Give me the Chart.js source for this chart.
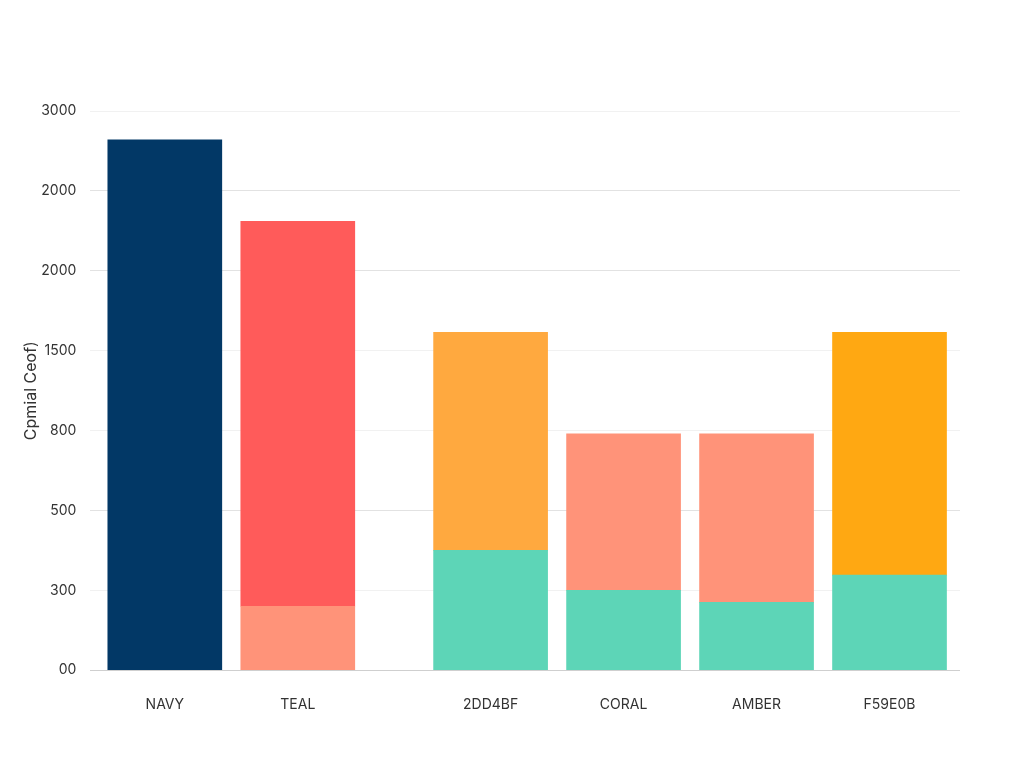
<!DOCTYPE html>
<html>
<head>
<meta charset="utf-8">
<script src="https://cdn.jsdelivr.net/npm/chart.js@4/dist/chart.umd.min.js"></script>
<style>
html,body{margin:0;padding:0;background:#fff;}
#wrap{width:1024px;height:768px;position:relative;}
</style>
</head>
<body>
<div id="wrap"><canvas id="c" width="1024" height="768"></canvas></div>
<script>
// Categories and their positions along the x axis (in category units)
const categories = ["NAVY", "TEAL", "2DD4BF", "CORAL", "AMBER", "F59E0B"];
const categoryPos = [0, 1, 2.45, 3.45, 4.45, 5.45];

// Y tick labels (evenly spaced gridlines, bottom to top)
const yTickLabels = ["00", "300", "500", "800", "1500", "2000", "2000", "3000"];
const yTitle = "Cpmial Ceof)";

// Series values in gridline units (0..7)
const navyVals   = [6.64, null, null, null, null, null];
const tealVals   = [null, null, 1.50, 1.00, 0.85, 1.19];
const salmonVals = [null, 0.80, null, 1.96, 2.11, null];
const redVals    = [null, 4.82, null, null, null, null];
const orangeVals = [null, null, 2.73, null, null, null];
const amberVals  = [null, null, null, null, null, 3.04];

function pts(vals){ return vals.map((v,i)=>({x:categoryPos[i], y:v})); }

const gridFaint = [false, true, false, true, true, false, false, true];

new Chart(document.getElementById('c'), {
  type: 'bar',
  data: {
    datasets: [
      {label:'navy',   data: pts(navyVals),   backgroundColor:'#023866'},
      {label:'teal',   data: pts(tealVals),   backgroundColor:'#5DD5B7'},
      {label:'salmon', data: pts(salmonVals), backgroundColor:'#FF9379'},
      {label:'red',    data: pts(redVals),    backgroundColor:'#FF5B5A'},
      {label:'orange', data: pts(orangeVals), backgroundColor:'#FFA93F'},
      {label:'amber',  data: pts(amberVals),  backgroundColor:'#FFA812'}
    ]
  },
  options: {
    responsive: false,
    animation: false,
    devicePixelRatio: 1,
    layout: {padding: {left: -4, right: 64, top: 111, bottom: 29}},
    plugins: {legend: {display: false}, tooltip: {enabled: false}},
    datasets: {bar: {barThickness: 114, borderWidth: 0, grouped: false}},
    scales: {
      x: {
        type: 'linear',
        stacked: true,
        offset: false,
        min: -0.56,
        max: 5.98,
        grid: {display: false, drawTicks: false},
        border: {display: false},
        afterBuildTicks: (axis) => { axis.ticks = categoryPos.map(v => ({value: v})); },
        ticks: {
          autoSkip: false,
          maxRotation: 0,
          padding: 26,
          color: '#333',
          font: {family: 'Inter', size: 14},
          callback: (v) => { const i = categoryPos.indexOf(v); return i >= 0 ? categories[i] : ''; }
        }
      },
      y: {
        stacked: true,
        min: 0,
        max: 7,
        grid: {
          drawTicks: false,
          color: (ctx) => ctx.index === 0 ? '#cfcfcf' : (gridFaint[ctx.index] ? '#f1f1f1' : '#e2e2e2'),
          lineWidth: 1
        },
        border: {display: false},
        ticks: {
          stepSize: 1,
          padding: 14,
          color: '#333',
          font: {family: 'Inter', size: 14},
          callback: (v) => yTickLabels[v]
        },
        title: {
          display: true,
          text: yTitle,
          color: '#333',
          font: {family: 'Inter', size: 16},
          padding: {top: 26, bottom: -14}
        }
      }
    }
  }
});
</script>
</body>
</html>
